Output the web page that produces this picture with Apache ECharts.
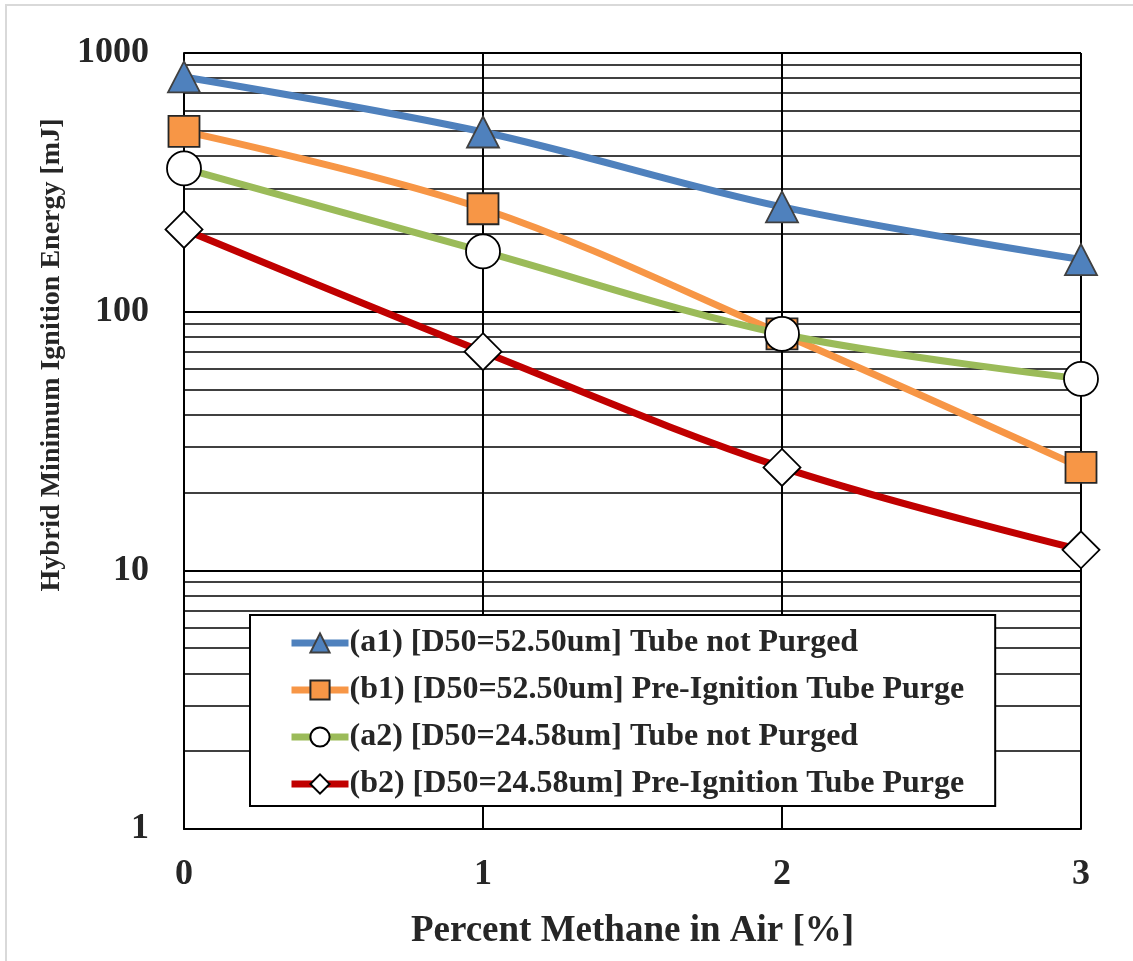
<!DOCTYPE html>
<html>
<head>
<meta charset="utf-8">
<title>Hybrid Minimum Ignition Energy</title>
<script src="https://cdn.jsdelivr.net/npm/echarts@6/dist/echarts.min.js"></script>
<style>
    html, body { margin: 0; padding: 0; background: #fff; }
    #chart { width: 1133px; height: 961px; }
</style>
</head>
<body>
<div id="chart"></div>
<script>
// 数据
const methanePercent = [0, 1, 2, 3];
const a1Values = [808, 495, 254, 159];
const b1Values = [498, 250, 82, 25];
const a2Values = [358, 171, 82, 55];
const b2Values = [208, 70, 25, 12];
const seriesNames = [
    '(a1) [D50=52.50um] Tube not Purged',
    '(b1) [D50=52.50um] Pre-Ignition Tube Purge',
    '(a2) [D50=24.58um] Tube not Purged',
    '(b2) [D50=24.58um] Pre-Ignition Tube Purge'
];

const textColor = '#262626';
const fontFamily = '"Liberation Serif", "Times New Roman", serif';

function pairs(values) {
    return methanePercent.map((x, i) => [x, values[i]]);
}

function makeSeries(name, values, color, symbol, size, fill, border) {
    return {
        name: name,
        type: 'line',
        data: pairs(values),
        smooth: 0.35,
        symbol: symbol,
        symbolSize: size,
        showAllSymbol: true,
        lineStyle: { color: color, width: 7 },
        itemStyle: { color: fill, borderColor: border, borderWidth: 1.8, opacity: 1 },
        emphasis: { disabled: true }
    };
}

document.addEventListener('DOMContentLoaded', function() {
    const chart = echarts.init(document.getElementById('chart'));
    const option = {
        backgroundColor: '#fff',
        animation: false,
        graphic: [{
            type: 'rect',
            shape: { x: 6, y: 5, width: 1200, height: 1100 },
            style: { fill: 'none', stroke: '#d9d9d9', lineWidth: 2 },
            silent: true
        }],
        grid: {
            left: 184,
            top: 53,
            right: 52,
            bottom: 132
        },
        legend: {
            orient: 'vertical',
            left: 250,
            top: 615,
            itemWidth: 57,
            itemHeight: 24,
            itemGap: 15,
            padding: [12, 31, 6, 38],
            backgroundColor: '#fff',
            borderColor: '#000',
            borderWidth: 2,
            borderRadius: 0,
            selectedMode: false,
            lineStyle: { width: 7 },
            textStyle: {
                color: textColor,
                fontFamily: fontFamily,
                fontWeight: 'bold',
                fontSize: 32,
                padding: [0, 0, 0, -4]
            },
            data: seriesNames
        },
        xAxis: {
            type: 'value',
            min: 0,
            max: 3,
            interval: 1,
            name: 'Percent Methane in Air [%]',
            nameLocation: 'middle',
            nameGap: 84,
            nameTextStyle: {
                color: textColor,
                fontFamily: fontFamily,
                fontWeight: 'bold',
                fontSize: 37
            },
            axisLine: { show: true, lineStyle: { color: '#000', width: 2 } },
            axisTick: { show: false },
            axisLabel: {
                color: textColor,
                fontFamily: fontFamily,
                fontWeight: 'bold',
                fontSize: 36,
                margin: 28
            },
            splitLine: { show: true, lineStyle: { color: '#000', width: 2 } }
        },
        yAxis: {
            type: 'log',
            logBase: 10,
            min: 1,
            max: 1000,
            name: 'Hybrid Minimum Ignition Energy [mJ]',
            nameLocation: 'middle',
            nameGap: 114,
            nameTextStyle: {
                color: textColor,
                fontFamily: fontFamily,
                fontWeight: 'bold',
                fontSize: 28,
                padding: [0, 0, 0, 172]
            },
            axisLine: { show: true, lineStyle: { color: '#000', width: 2 } },
            axisTick: { show: false },
            axisLabel: {
                color: textColor,
                fontFamily: fontFamily,
                fontWeight: 'bold',
                fontSize: 36,
                margin: 35,
                formatter: function(value) {
                    return String(value);
                }
            },
            splitLine: { show: true, lineStyle: { color: '#000', width: 2 } },
            minorTick: { show: false, splitNumber: 9 },
            minorSplitLine: { show: true, lineStyle: { color: '#000', width: 1.6 } }
        },
        series: [
            makeSeries(seriesNames[0], a1Values, '#4F81BD', 'triangle', [32, 31], '#4F81BD', '#404040'),
            makeSeries(seriesNames[1], b1Values, '#F79646', 'rect', [31, 31], '#F79646', '#262626'),
            makeSeries(seriesNames[2], a2Values, '#9BBB59', 'circle', 34, '#fff', '#000'),
            makeSeries(seriesNames[3], b2Values, '#C00000', 'diamond', [37, 37], '#fff', '#000')
        ]
    };
    chart.setOption(option);
});
</script>
</body>
</html>
